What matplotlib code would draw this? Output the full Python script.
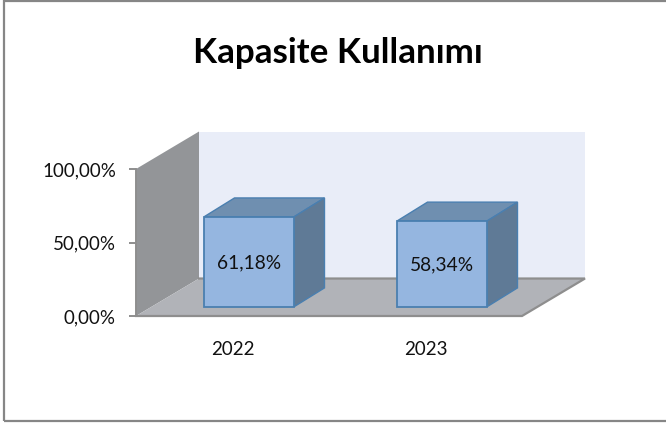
import matplotlib
matplotlib.use('Agg')
import matplotlib.pyplot as plt
from matplotlib.patches import Polygon, Rectangle

years = ['2022', '2023']
values = [61.18, 58.34]
value_labels = ['61,18%', '58,34%']
y_ticks = [0, 50, 100]
y_tick_labels = ['0,00%', '50,00%', '100,00%']

W, H = 666, 424
plt.rcParams['font.family'] = ['Lato', 'DejaVu Sans']

fig = plt.figure(figsize=(W / 100, H / 100), dpi=100)
fig.add_artist(Rectangle((4 / W, 1 - 421 / H), 670 / W, 420 / H, fill=False,
                         edgecolor='#868686', linewidth=1.6))

# front plane of the 3d box, value 0 at y=316 and 100 at y=169
ax = fig.add_axes([136 / W, 1 - 316 / H, 386 / W, 147 / H])
ax.set_xlim(-0.5, 1.5)
ax.set_ylim(0, 100)
ax.patch.set_visible(False)
for s in ax.spines.values():
    s.set_visible(False)

# depth of the box in data units
dx = 63 / 193
dy = 25.5
x0, x1 = ax.get_xlim()
top = y_ticks[-1]

# back wall, side wall, floor
ax.add_patch(Polygon([(x0 + dx, dy), (x1 + dx, dy), (x1 + dx, top + dy), (x0 + dx, top + dy)],
                     facecolor='#e9edf8', edgecolor='none', clip_on=False, zorder=1))
ax.add_patch(Polygon([(x0, 0), (x0 + dx, dy), (x0 + dx, top + dy), (x0, top)],
                     facecolor='#939598', edgecolor='none', clip_on=False, zorder=2))
ax.add_patch(Polygon([(x0, 0), (x1, 0), (x1 + dx, dy), (x0 + dx, dy)],
                     facecolor='#b1b3b8', edgecolor='none', clip_on=False, zorder=2))
ax.plot([x0 + dx, x1 + dx, x1, x0], [dy, dy, 0, 0], color='#8e8e8e', lw=1.6,
        clip_on=False, zorder=3, solid_joinstyle='miter')

# bars sit a quarter of the way into the depth
bar_w = 90 / 193
fx, fy = dx * 0.25 + 1 / 193, dy * 0.25
bx, by = dx * 0.48, dy * 0.5
edge = '#4a7fb0'
for i, (v, lab) in enumerate(zip(values, value_labels)):
    xl = i - bar_w / 2 + fx
    xr = i + bar_w / 2 + fx
    yb = fy
    yt = fy + v
    ax.add_patch(Polygon([(xl, yt), (xr, yt), (xr + bx, yt + by), (xl + bx, yt + by)],
                         facecolor='#6f8fb0', edgecolor=edge, lw=1.0, clip_on=False, zorder=4))
    ax.add_patch(Polygon([(xr, yb), (xr + bx, yb + by), (xr + bx, yt + by), (xr, yt)],
                         facecolor='#5f7a96', edgecolor=edge, lw=1.0, clip_on=False, zorder=4))
    ax.add_patch(Polygon([(xl, yb), (xr, yb), (xr, yt), (xl, yt)],
                         facecolor='#95b6e0', edgecolor=edge, lw=1.3, clip_on=False, zorder=5))
    ax.text((xl + xr) / 2, (yb + yt) / 2 - 0.5, lab, ha='center', va='center',
            fontsize=13.8, color='#111111', zorder=6)

ax.set_yticks(y_ticks)
ax.set_yticklabels(y_tick_labels, fontsize=13.5, color='#111111')
ax.set_xticks([0, 1])
ax.set_xticklabels(years, fontsize=13.5, color='#111111')
ax.tick_params(axis='y', length=5, width=1.4, color='#8e8e8e', pad=9.5)
ax.tick_params(axis='x', length=0, pad=18)
ax.plot([x0, x0], [0, top], color='#8e8e8e', lw=1.4, clip_on=False, zorder=3)

fig.text(338 / W, 1 - 53 / H, 'Kapasite Kullanımı', ha='center', va='center',
         fontsize=25.2, fontweight='bold', color='black')

fig.savefig('out.png', dpi=100)
plt.close()
